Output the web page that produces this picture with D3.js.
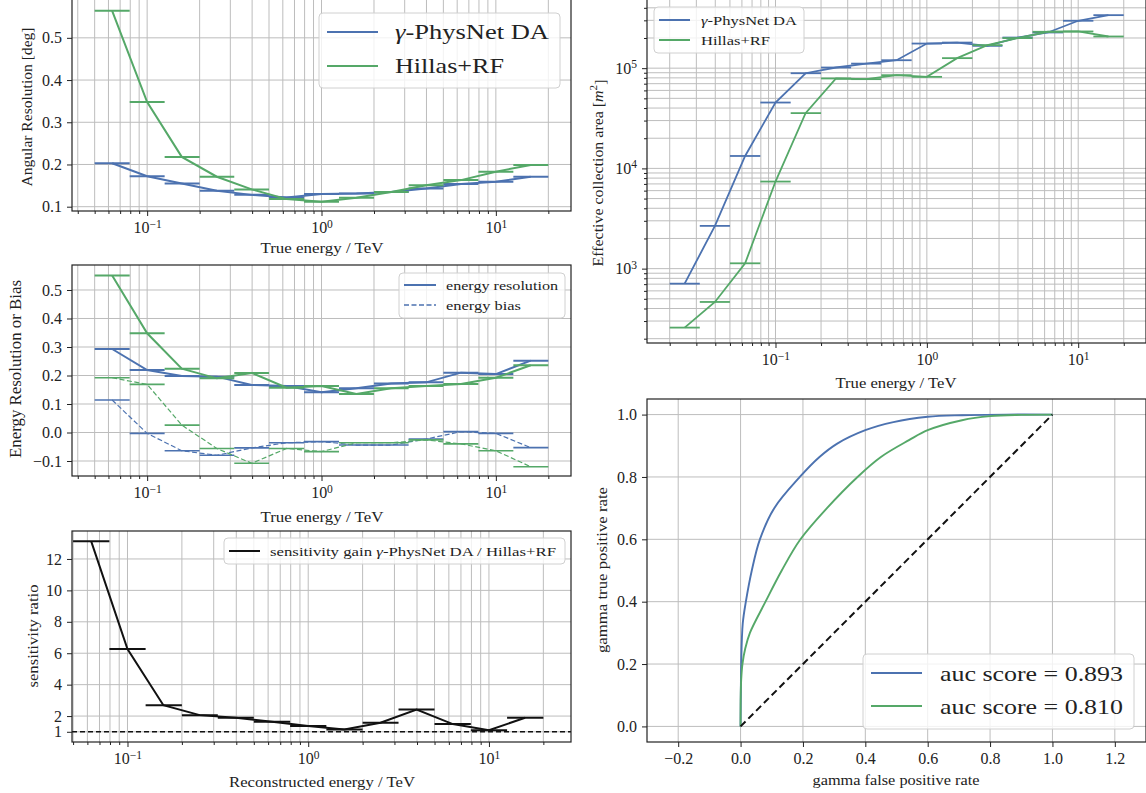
<!DOCTYPE html>
<html><head><meta charset="utf-8">
<script src="https://cdn.jsdelivr.net/npm/d3@7"></script>
<style>
body{margin:0;background:#fff}
svg{display:block}
text{font-family:"Liberation Serif","DejaVu Serif",serif;fill:#222}
</style>
</head><body><script>
// ---------------- DATA ----------------
// energy bins (TeV), 5 per decade
const binLow13  = [0.05, 0.0794, 0.126, 0.2, 0.316, 0.5, 0.794, 1.26, 2.0, 3.16, 5.0, 7.94, 12.6];
const binHigh13 = [0.0794, 0.126, 0.2, 0.316, 0.5, 0.794, 1.26, 2.0, 3.16, 5.0, 7.94, 12.6, 20];
const binMid13  = [0.063, 0.1, 0.158, 0.251, 0.398, 0.631, 1.0, 1.585, 2.51, 3.98, 6.31, 10.0, 15.85];

const binLow15  = [0.02, 0.0316, 0.05, 0.0794, 0.126, 0.2, 0.316, 0.5, 0.794, 1.26, 2.0, 3.16, 5.0, 7.94, 12.6];
const binHigh15 = [0.0316, 0.05, 0.0794, 0.126, 0.2, 0.316, 0.5, 0.794, 1.26, 2.0, 3.16, 5.0, 7.94, 12.6, 20];
const binMid15  = [0.0251, 0.0398, 0.063, 0.1, 0.158, 0.251, 0.398, 0.631, 1.0, 1.585, 2.51, 3.98, 6.31, 10.0, 15.85];

// angular resolution [deg]
const angPhysNet = [0.203, 0.172, 0.155, 0.138, 0.128, 0.122, 0.130, 0.131, 0.135, 0.143, 0.154, 0.159, 0.171];
const angHillas  = [0.564, 0.348, 0.218, 0.171, 0.141, 0.118, 0.112, 0.121, 0.135, 0.151, 0.163, 0.183, 0.199];

// energy resolution / bias
const resPhysNet  = [0.293, 0.219, 0.198, 0.196, 0.167, 0.163, 0.141, 0.155, 0.172, 0.176, 0.210, 0.205, 0.252];
const resHillas   = [0.551, 0.348, 0.224, 0.190, 0.209, 0.157, 0.163, 0.135, 0.155, 0.163, 0.170, 0.192, 0.236];
const biasPhysNet = [0.114, -0.003, -0.064, -0.080, -0.054, -0.036, -0.032, -0.044, -0.044, -0.023, 0.003, -0.003, -0.053];
const biasHillas  = [0.192, 0.169, 0.026, -0.056, -0.108, -0.056, -0.067, -0.036, -0.036, -0.026, -0.040, -0.064, -0.120];

// sensitivity ratio
const sensRatio = [13.12, 6.27, 2.69, 2.06, 1.89, 1.64, 1.37, 1.14, 1.58, 2.42, 1.49, 1.10, 1.89];

// effective area [m^2]
const aeffPhysNet = [708, 2670, 13300, 45400, 89000, 101500, 111000, 120000, 176000, 180000, 167000, 202000, 227000, 297000, 338000];
const aeffHillas  = [258, 465, 1130, 7390, 35600, 78900, 77700, 85100, 81900, 125900, 169700, 199500, 230700, 232400, 207000];

// ROC curves [fpr, tpr]
const rocPhysNet = [[0,0],[0.001,0.12],[0.002,0.2],[0.007,0.33],[0.017,0.4],[0.036,0.5],[0.062,0.6],[0.108,0.7],[0.19,0.8],[0.253,0.864],[0.31,0.907],[0.4,0.95],[0.49,0.976],[0.6,0.993],[0.71,0.998],[0.85,1.0],[1,1]];
const rocHillas  = [[0,0],[0.0005,0.1],[0.002,0.15],[0.006,0.2],[0.015,0.25],[0.03,0.3],[0.08,0.4],[0.132,0.5],[0.192,0.6],[0.277,0.7],[0.375,0.8],[0.45,0.864],[0.54,0.918],[0.6,0.95],[0.71,0.982],[0.8,0.995],[0.9,0.999],[1,1]];
const rocChance  = [[0,0],[1,1]];

// tick values
const logMajorX = [0.1, 1, 10];
const angTicks  = [0.1, 0.2, 0.3, 0.4, 0.5];
const resTicks  = [-0.1, 0.0, 0.1, 0.2, 0.3, 0.4, 0.5];
const sensTicks = [1, 2, 4, 6, 8, 10, 12];
const aeffTicks = [1e3, 1e4, 1e5];
const rocXTicks = [-0.2, 0.0, 0.2, 0.4, 0.6, 0.8, 1.0, 1.2];
const rocYTicks = [0.0, 0.2, 0.4, 0.6, 0.8, 1.0];

// ---------------- STYLE ----------------
const BLUE = '#4C72B0', GREEN = '#55A868', GRID = '#bdbdbd', INK = '#222';
const svg = d3.select('body').append('svg').attr('width', 1146).attr('height', 793);
let clipN = 0;

function logMinor(dom) {
  const out = [];
  const lo = Math.floor(Math.log10(dom[0])), hi = Math.ceil(Math.log10(dom[1]));
  for (let e = lo; e <= hi; e++) for (let k = 2; k <= 9; k++) {
    const v = k * Math.pow(10, e);
    if (v >= dom[0] && v <= dom[1]) out.push(v);
  }
  return out;
}
function supLog(sel) {
  sel.selectAll('.tick text').each(function(d) {
    const e = Math.round(Math.log10(d));
    const t = d3.select(this);
    t.text('10');
    t.append('tspan').attr('dy', '-0.48em').attr('font-size', '0.72em').text(e < 0 ? '\u2212' + (-e) : String(e));
  });
}

function panel(c) {
  const g = svg.append('g').attr('transform', `translate(${c.x0},${c.y0})`);
  const id = 'clip' + (clipN++);
  g.append('clipPath').attr('id', id).append('rect').attr('width', c.w).attr('height', c.h);
  const grid = g.append('g');
  grid.selectAll('line.gx').data(c.xGrid).join('line').attr('class', 'gx')
    .attr('x1', d => c.xs(d)).attr('x2', d => c.xs(d)).attr('y1', 0).attr('y2', c.h)
    .attr('stroke', GRID).attr('stroke-width', 1);
  grid.selectAll('line.gy').data(c.yGrid).join('line').attr('class', 'gy')
    .attr('y1', d => c.ys(d)).attr('y2', d => c.ys(d)).attr('x1', 0).attr('x2', c.w)
    .attr('stroke', GRID).attr('stroke-width', 1);
  const plot = g.append('g').attr('clip-path', `url(#${id})`);

  const ax = g.append('g').attr('transform', `translate(0,${c.h})`)
    .call(d3.axisBottom(c.xs).tickValues(c.xMajor).tickSize(5).tickPadding(6).tickFormat(c.xFmt || (d => d)));
  if (c.xMinor) g.append('g').attr('transform', `translate(0,${c.h})`)
    .call(d3.axisBottom(c.xs).tickValues(c.xMinor).tickSize(3).tickFormat(''));
  const ay = g.append('g')
    .call(d3.axisLeft(c.ys).tickValues(c.yMajor).tickSize(5).tickPadding(5).tickFormat(c.yFmt || (d => d)));
  if (c.yMinor) g.append('g').call(d3.axisLeft(c.ys).tickValues(c.yMinor).tickSize(3).tickFormat(''));
  g.selectAll('.domain').remove();
  g.selectAll('.tick line').attr('stroke', INK).attr('stroke-width', 1);
  g.selectAll('.tick text').attr('font-size', 16).attr('fill', INK)
    .style('font-family', '"Liberation Serif",serif');
  if (c.xLog) supLog(ax);
  if (c.yLog) supLog(ay);
  g.append('rect').attr('width', c.w).attr('height', c.h).attr('fill', 'none')
    .attr('stroke', INK).attr('stroke-width', 1.2);
  return { g, plot };
}

function stepSeries(plot, xs, ys, lows, highs, mids, vals, color, lw, dash, barLw) {
  plot.append('path').datum(vals)
    .attr('d', d3.line().x((d, i) => xs(mids[i])).y(d => ys(d)))
    .attr('fill', 'none').attr('stroke', color).attr('stroke-width', lw)
    .attr('stroke-dasharray', dash || null);
  plot.append('g').selectAll('line').data(vals).join('line')
    .attr('x1', (d, i) => xs(lows[i])).attr('x2', (d, i) => xs(highs[i]))
    .attr('y1', d => ys(d)).attr('y2', d => ys(d))
    .attr('stroke', color).attr('stroke-width', barLw);
}

function label(txt, x, y, size, rot, len) {
  const t = svg.append('text').attr('x', x).attr('y', y).attr('text-anchor', 'middle')
    .attr('dominant-baseline', 'central').attr('font-size', size).attr('fill', '#333');
  if (rot) t.attr('transform', `rotate(-90,${x},${y})`);
  if (len) t.attr('textLength', len).attr('lengthAdjust', 'spacingAndGlyphs');
  if (typeof txt === 'string') t.text(txt); else txt(t);
  return t;
}

function legend(c) {
  svg.append('rect').attr('x', c.x).attr('y', c.y).attr('width', c.w).attr('height', c.h)
    .attr('rx', 4).attr('fill', '#fff').attr('fill-opacity', 0.8)
    .attr('stroke', '#d0d0d0').attr('stroke-width', 1);
  c.items.forEach((it, i) => {
    const ry = c.rows[i];
    svg.append('line').attr('x1', c.h1).attr('x2', c.h2).attr('y1', ry).attr('y2', ry)
      .attr('stroke', it.color).attr('stroke-width', it.lw || 2)
      .attr('stroke-dasharray', it.dash || null);
    const t = svg.append('text').attr('x', c.tx).attr('y', ry).attr('dominant-baseline', 'central')
      .attr('font-size', c.fs).attr('fill', '#222');
    if (it.len) t.attr('textLength', it.len).attr('lengthAdjust', 'spacingAndGlyphs');
    if (typeof it.text === 'string') t.text(it.text); else it.text(t);
  });
}
const gammaPhys = (suffix) => t => {
  t.append('tspan').attr('font-style', 'italic').text('\u03B3');
  t.append('tspan').text('-PhysNet DA' + (suffix || ''));
};

// ---------------- PANEL 1 : angular resolution ----------------
{
  const w = 499, h = 212;
  const xs = d3.scaleLog().domain([Math.pow(10, -1.431), Math.pow(10, 1.431)]).range([0, w]);
  const ys = d3.scaleLinear().domain([0.0898, 0.592]).range([h, 0]);
  const minor = logMinor(xs.domain());
  const p = panel({ x0: 72, y0: -1, w, h, xs, ys, xGrid: logMajorX.concat(minor), yGrid: angTicks,
    xMajor: logMajorX, xMinor: minor, yMajor: angTicks, yFmt: d3.format('.1f'), xLog: true });
  stepSeries(p.plot, xs, ys, binLow13, binHigh13, binMid13, angPhysNet, BLUE, 2, null, 2);
  stepSeries(p.plot, xs, ys, binLow13, binHigh13, binMid13, angHillas, GREEN, 2, null, 2);
  label('Angular Resolution [deg]', 27, 107, 15, true, 159);
  label('True energy / TeV', 322, 248, 15, false, 123);
  legend({ x: 319, y: 13, w: 241, h: 75, h1: 327, h2: 378, tx: 395, fs: 21, rows: [32, 66],
    items: [{ color: BLUE, text: gammaPhys(), len: 154 }, { color: GREEN, text: 'Hillas+RF', len: 109 }] });
}

// ---------------- PANEL 2 : energy resolution / bias ----------------
{
  const w = 499, h = 211;
  const xs = d3.scaleLog().domain([Math.pow(10, -1.431), Math.pow(10, 1.431)]).range([0, w]);
  const ys = d3.scaleLinear().domain([-0.1526, 0.5877]).range([h, 0]);
  const minor = logMinor(xs.domain());
  const p = panel({ x0: 72, y0: 265, w, h, xs, ys, xGrid: logMajorX.concat(minor), yGrid: resTicks,
    xMajor: logMajorX, xMinor: minor, yMajor: resTicks, yFmt: d3.format('.1f'), xLog: true });
  stepSeries(p.plot, xs, ys, binLow13, binHigh13, binMid13, resPhysNet, BLUE, 2, null, 2);
  stepSeries(p.plot, xs, ys, binLow13, binHigh13, binMid13, biasPhysNet, BLUE, 1.2, '5,2.5', 1.6);
  stepSeries(p.plot, xs, ys, binLow13, binHigh13, binMid13, resHillas, GREEN, 2, null, 2);
  stepSeries(p.plot, xs, ys, binLow13, binHigh13, binMid13, biasHillas, GREEN, 1.2, '5,2.5', 1.6);
  label('Energy Resolution or Bias', 15, 369, 16, true, 178);
  label('True energy / TeV', 322, 517, 15, false, 123);
  legend({ x: 399, y: 273, w: 166, h: 45, h1: 404, h2: 436, tx: 446, fs: 13, rows: [285, 305],
    items: [{ color: BLUE, text: 'energy resolution', len: 112 },
            { color: BLUE, text: 'energy bias', dash: '5,2.5', lw: 1.3, len: 75 }] });
}

// ---------------- PANEL 3 : sensitivity ratio ----------------
{
  const w = 499, h = 211;
  const xs = d3.scaleLog().domain([Math.pow(10, -1.307), Math.pow(10, 1.454)]).range([0, w]);
  const ys = d3.scaleLinear().domain([0.35, 13.78]).range([h, 0]);
  const minor = logMinor(xs.domain());
  const p = panel({ x0: 72, y0: 531, w, h, xs, ys, xGrid: logMajorX.concat(minor), yGrid: sensTicks,
    xMajor: logMajorX, xMinor: minor, yMajor: sensTicks, yFmt: d3.format('d'), xLog: true });
  stepSeries(p.plot, xs, ys, binLow13, binHigh13, binMid13, sensRatio, '#111', 2, null, 2);
  p.plot.append('line').attr('x1', 0).attr('x2', w).attr('y1', ys(1)).attr('y2', ys(1))
    .attr('stroke', '#111').attr('stroke-width', 1.4).attr('stroke-dasharray', '5,3');
  label('sensitivity ratio', 33, 636, 15, true, 103);
  label('Reconstructed energy / TeV', 322, 782, 15, false, 186);
  legend({ x: 224, y: 538, w: 341, h: 26, h1: 229, h2: 260, tx: 270, fs: 13, rows: [551],
    items: [{ color: '#111', text: t => {
      t.append('tspan').text('sensitivity gain ');
      t.append('tspan').attr('font-style', 'italic').text('\u03B3');
      t.append('tspan').text('-PhysNet DA / Hillas+RF');
    }, len: 286 }] });
}

// ---------------- PANEL 4 : effective area ----------------
{
  const w = 499, h = 344;
  const xs = d3.scaleLog().domain([Math.pow(10, -1.849), Math.pow(10, 1.448)]).range([0, w]);
  const ys = d3.scaleLog().domain([Math.pow(10, 2.258), Math.pow(10, 5.69)]).range([h, 0]);
  const xMinor = logMinor(xs.domain());
  const yMinor = logMinor(ys.domain());
  const p = panel({ x0: 647, y0: -1, w, h, xs, ys, xGrid: logMajorX.concat(xMinor), yGrid: aeffTicks.concat(yMinor),
    xMajor: logMajorX, xMinor, yMajor: aeffTicks, yMinor, xLog: true, yLog: true });
  stepSeries(p.plot, xs, ys, binLow15, binHigh15, binMid15, aeffPhysNet, BLUE, 1.8, null, 1.8);
  stepSeries(p.plot, xs, ys, binLow15, binHigh15, binMid15, aeffHillas, GREEN, 1.8, null, 1.8);
  label(t => {
    t.append('tspan').text('Effective collection area [');
    t.append('tspan').attr('font-style', 'italic').text('m');
    t.append('tspan').attr('dy', '-0.45em').attr('font-size', '0.7em').text('2');
    t.append('tspan').attr('dy', '0.45em').text(']');
  }, 598, 173, 15, true, 187);
  label('True energy / TeV', 896, 383, 15, false, 121);
  legend({ x: 654, y: 7, w: 150, h: 46, h1: 659, h2: 690, tx: 701, fs: 13, rows: [20, 40],
    items: [{ color: BLUE, text: gammaPhys(), len: 96 }, { color: GREEN, text: 'Hillas+RF', len: 69 }] });
}

// ---------------- PANEL 5 : ROC ----------------
{
  const w = 499, h = 343;
  const xs = d3.scaleLinear().domain([-0.3, 1.3]).range([0, w]);
  const ys = d3.scaleLinear().domain([-0.05, 1.05]).range([h, 0]);
  const p = panel({ x0: 647, y0: 399, w, h, xs, ys, xGrid: rocXTicks, yGrid: rocYTicks,
    xMajor: rocXTicks, yMajor: rocYTicks, xFmt: d3.format('.1f'), yFmt: d3.format('.1f') });
  const line = d3.line().x(d => xs(d[0])).y(d => ys(d[1])).curve(d3.curveCatmullRom.alpha(0.5));
  p.plot.append('path').datum(rocPhysNet).attr('d', line).attr('fill', 'none').attr('stroke', BLUE).attr('stroke-width', 1.9);
  p.plot.append('path').datum(rocHillas).attr('d', line).attr('fill', 'none').attr('stroke', GREEN).attr('stroke-width', 1.9);
  p.plot.append('path').datum(rocChance).attr('d', d3.line().x(d => xs(d[0])).y(d => ys(d[1])))
    .attr('fill', 'none').attr('stroke', '#111').attr('stroke-width', 2).attr('stroke-dasharray', '7,4');
  label('gamma true positive rate', 602, 570, 15, true, 166);
  label('gamma false positive rate', 896, 780, 15, false, 167);
  legend({ x: 863, y: 654, w: 271, h: 75, h1: 871, h2: 922, tx: 940, fs: 22, rows: [673, 706],
    items: [{ color: BLUE, text: 'auc score = 0.893', len: 183 }, { color: GREEN, text: 'auc score = 0.810', len: 183 }] });
}
</script></body></html>
